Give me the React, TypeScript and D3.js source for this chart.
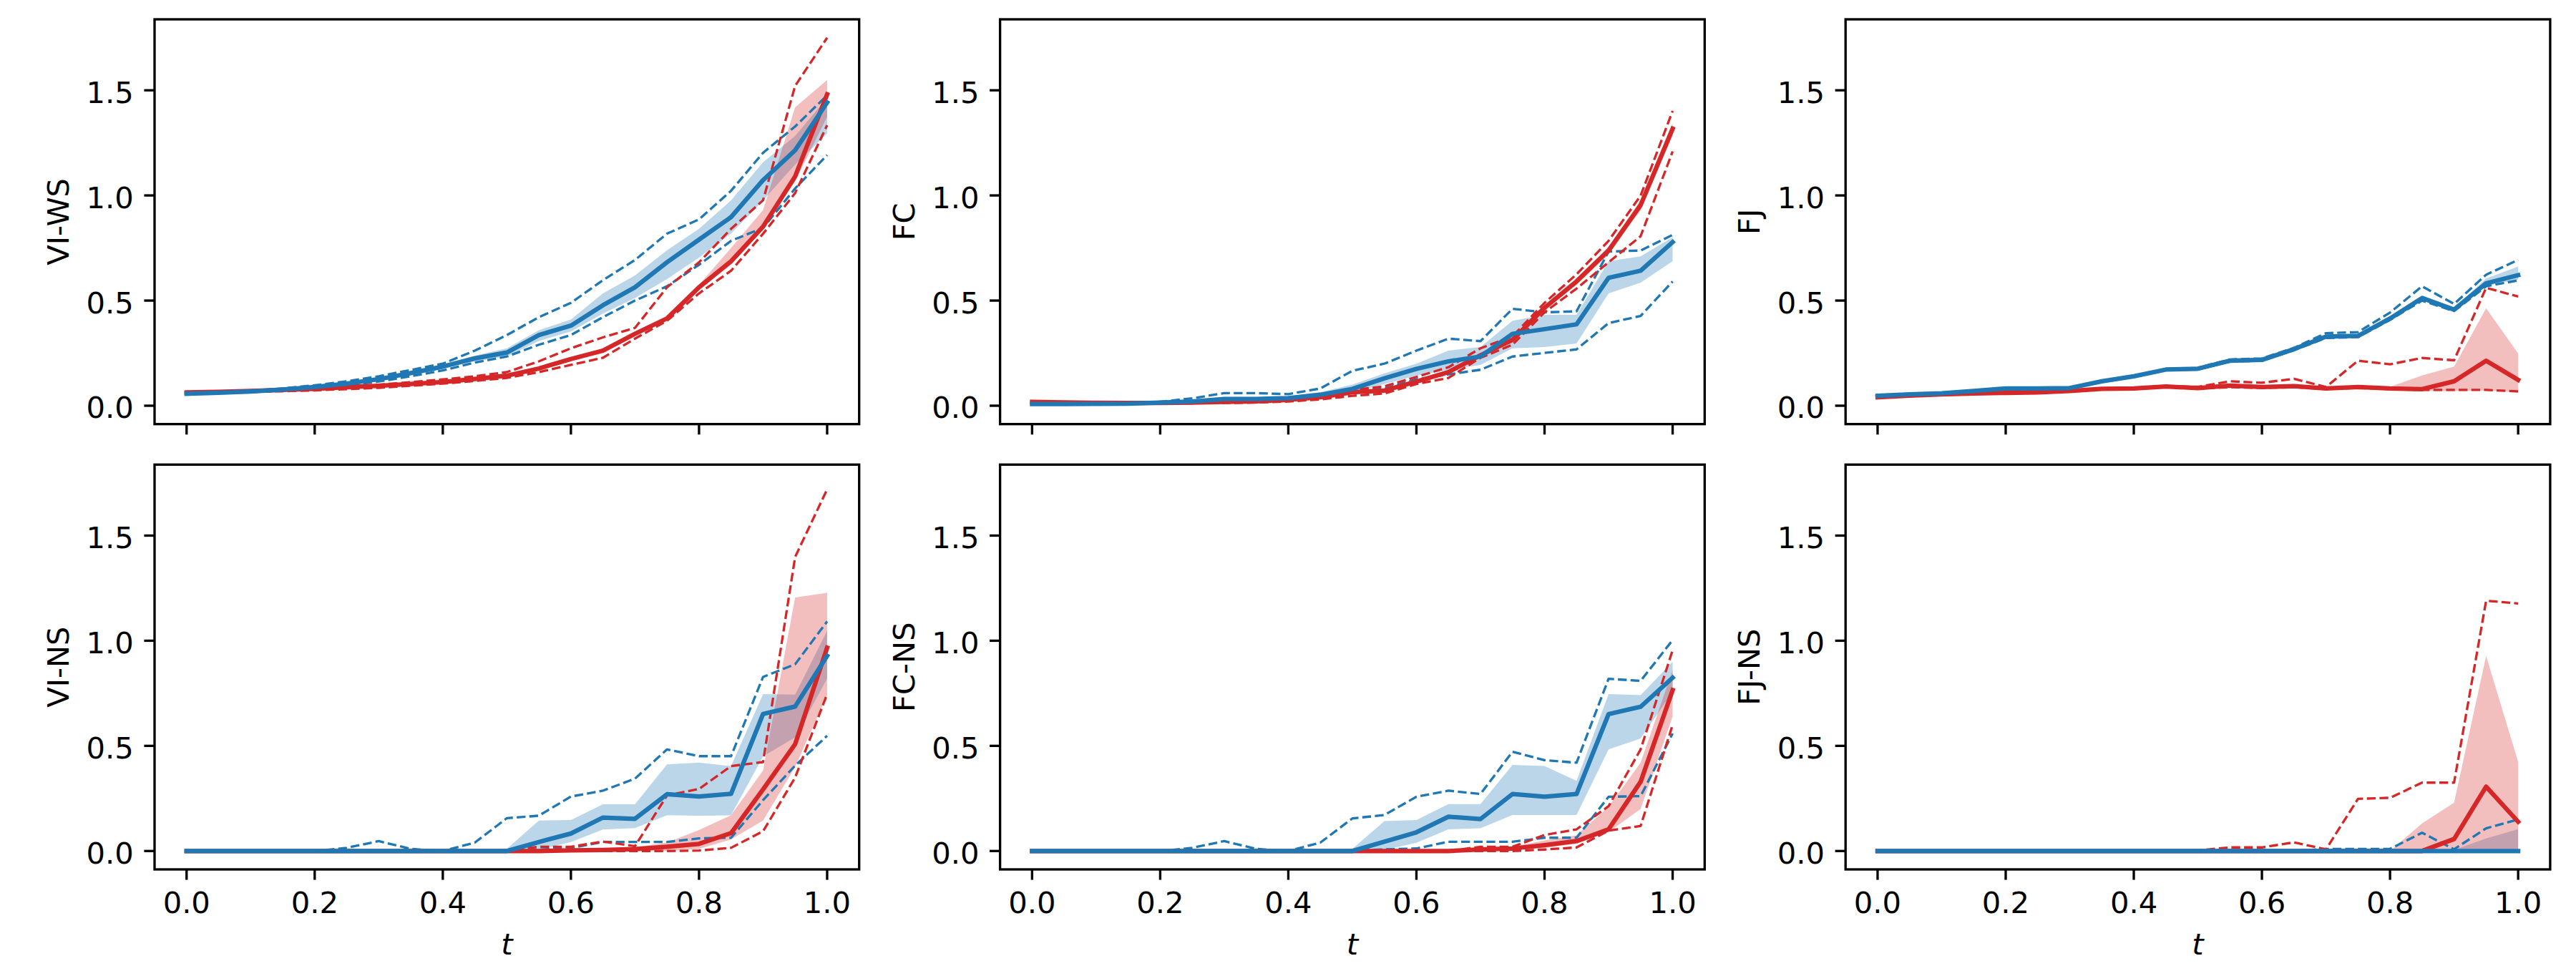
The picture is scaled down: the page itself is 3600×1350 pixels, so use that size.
import React from 'react';
import * as d3 from 'd3';

// ---------- data ----------
const T = [0, 0.05, 0.1, 0.15, 0.2, 0.25, 0.3, 0.35, 0.4, 0.45, 0.5, 0.55, 0.6, 0.65, 0.7, 0.75, 0.8, 0.85, 0.9, 0.95, 1.0];
const X_TICKS = [0, 0.2, 0.4, 0.6, 0.8, 1.0];
const X_TICK_LABELS = ['0.0', '0.2', '0.4', '0.6', '0.8', '1.0'];
const Y_TICKS = [0, 0.5, 1.0, 1.5];
const Y_TICK_LABELS = ['0.0', '0.5', '1.0', '1.5'];
const Y_LABELS = ['VI-WS', 'FC', 'FJ', 'VI-NS', 'FC-NS', 'FJ-NS'];
const X_LABEL = 't';

// VI-WS
const viwsBlueMean = [0.057, 0.062, 0.068, 0.077, 0.089, 0.105, 0.126, 0.155, 0.186, 0.225, 0.253, 0.336, 0.381, 0.478, 0.563, 0.682, 0.790, 0.897, 1.073, 1.215, 1.442];
const viwsBlueLo = [0.054, 0.059, 0.065, 0.073, 0.084, 0.099, 0.118, 0.146, 0.176, 0.212, 0.234, 0.308, 0.353, 0.438, 0.512, 0.602, 0.704, 0.818, 0.977, 1.147, 1.294];
const viwsBlueHi = [0.060, 0.065, 0.071, 0.081, 0.094, 0.111, 0.134, 0.164, 0.196, 0.238, 0.273, 0.359, 0.410, 0.534, 0.619, 0.739, 0.841, 0.977, 1.158, 1.283, 1.464];
const viwsBlueDashHi = [0.058, 0.064, 0.070, 0.082, 0.097, 0.116, 0.140, 0.170, 0.200, 0.262, 0.336, 0.421, 0.489, 0.597, 0.693, 0.818, 0.886, 1.022, 1.203, 1.328, 1.476];
const viwsBlueDashLo = [0.055, 0.060, 0.066, 0.074, 0.083, 0.097, 0.115, 0.140, 0.168, 0.205, 0.234, 0.290, 0.336, 0.421, 0.500, 0.568, 0.670, 0.784, 0.846, 1.033, 1.192];
const viwsRedMean = [0.063, 0.066, 0.070, 0.075, 0.080, 0.088, 0.095, 0.103, 0.113, 0.127, 0.143, 0.177, 0.222, 0.262, 0.342, 0.415, 0.563, 0.687, 0.852, 1.090, 1.481];
const viwsRedLo = [0.061, 0.064, 0.068, 0.073, 0.078, 0.085, 0.092, 0.099, 0.109, 0.122, 0.137, 0.170, 0.214, 0.253, 0.332, 0.405, 0.552, 0.670, 0.841, 1.067, 1.374];
const viwsRedHi = [0.065, 0.068, 0.072, 0.077, 0.082, 0.091, 0.098, 0.107, 0.117, 0.132, 0.149, 0.184, 0.230, 0.271, 0.352, 0.425, 0.575, 0.750, 0.931, 1.419, 1.549];
const viwsRedDashHi = [0.064, 0.068, 0.072, 0.078, 0.085, 0.092, 0.100, 0.112, 0.125, 0.140, 0.160, 0.211, 0.273, 0.325, 0.370, 0.563, 0.682, 0.841, 0.977, 1.521, 1.750];
const viwsRedDashLo = [0.060, 0.063, 0.066, 0.069, 0.073, 0.079, 0.085, 0.095, 0.105, 0.118, 0.132, 0.160, 0.194, 0.228, 0.319, 0.404, 0.534, 0.642, 0.818, 1.011, 1.334];

// FC
const fcBlueMean = [0.008, 0.008, 0.009, 0.010, 0.015, 0.020, 0.032, 0.032, 0.036, 0.052, 0.080, 0.130, 0.175, 0.211, 0.234, 0.342, 0.364, 0.387, 0.608, 0.642, 0.778];
const fcBlueLo = [0.005, 0.005, 0.006, 0.007, 0.011, 0.015, 0.025, 0.025, 0.029, 0.042, 0.064, 0.103, 0.143, 0.171, 0.194, 0.273, 0.279, 0.296, 0.534, 0.585, 0.687];
const fcBlueHi = [0.011, 0.011, 0.012, 0.013, 0.019, 0.026, 0.040, 0.040, 0.044, 0.065, 0.100, 0.154, 0.200, 0.262, 0.279, 0.404, 0.432, 0.432, 0.687, 0.710, 0.801];
const fcBlueDashHi = [0.010, 0.010, 0.011, 0.013, 0.019, 0.035, 0.060, 0.060, 0.055, 0.082, 0.166, 0.200, 0.262, 0.319, 0.307, 0.461, 0.444, 0.449, 0.733, 0.738, 0.812];
const fcBlueDashLo = [0.006, 0.006, 0.007, 0.008, 0.012, 0.016, 0.025, 0.025, 0.028, 0.040, 0.069, 0.081, 0.126, 0.149, 0.171, 0.234, 0.251, 0.268, 0.393, 0.427, 0.591];
const fcRedMean = [0.018, 0.016, 0.014, 0.013, 0.013, 0.015, 0.018, 0.021, 0.028, 0.040, 0.064, 0.072, 0.115, 0.160, 0.240, 0.313, 0.466, 0.591, 0.738, 0.954, 1.317];
const fcRedLo = [0.015, 0.013, 0.011, 0.010, 0.010, 0.012, 0.014, 0.017, 0.023, 0.034, 0.057, 0.064, 0.106, 0.150, 0.229, 0.300, 0.452, 0.575, 0.720, 0.930, 1.285];
const fcRedHi = [0.021, 0.019, 0.017, 0.016, 0.016, 0.018, 0.022, 0.025, 0.033, 0.046, 0.071, 0.080, 0.124, 0.170, 0.251, 0.326, 0.480, 0.607, 0.756, 0.978, 1.345];
const fcRedDashHi = [0.020, 0.018, 0.016, 0.015, 0.015, 0.018, 0.022, 0.026, 0.034, 0.048, 0.075, 0.092, 0.137, 0.183, 0.273, 0.330, 0.489, 0.625, 0.784, 0.999, 1.402];
const fcRedDashLo = [0.016, 0.014, 0.012, 0.011, 0.011, 0.012, 0.013, 0.015, 0.020, 0.030, 0.047, 0.058, 0.103, 0.132, 0.228, 0.290, 0.444, 0.557, 0.682, 0.806, 1.209];

// FJ
const fjBlueMean = [0.047, 0.054, 0.059, 0.070, 0.082, 0.082, 0.084, 0.116, 0.140, 0.172, 0.176, 0.214, 0.218, 0.269, 0.329, 0.332, 0.415, 0.512, 0.457, 0.582, 0.621];
const fjBlueLo = [0.043, 0.050, 0.055, 0.066, 0.078, 0.078, 0.080, 0.112, 0.136, 0.167, 0.171, 0.209, 0.213, 0.263, 0.322, 0.326, 0.408, 0.502, 0.450, 0.570, 0.600];
const fjBlueHi = [0.051, 0.058, 0.063, 0.074, 0.086, 0.086, 0.088, 0.120, 0.144, 0.177, 0.181, 0.219, 0.223, 0.275, 0.336, 0.339, 0.424, 0.525, 0.466, 0.605, 0.662];
const fjBlueDashHi = [0.048, 0.055, 0.060, 0.071, 0.083, 0.083, 0.085, 0.118, 0.142, 0.175, 0.180, 0.220, 0.225, 0.275, 0.345, 0.350, 0.443, 0.568, 0.484, 0.623, 0.693];
const fjBlueDashLo = [0.046, 0.053, 0.058, 0.069, 0.081, 0.081, 0.083, 0.114, 0.138, 0.169, 0.173, 0.210, 0.214, 0.264, 0.322, 0.326, 0.408, 0.500, 0.450, 0.568, 0.596];
const fjRedMean = [0.040, 0.048, 0.054, 0.058, 0.061, 0.063, 0.070, 0.080, 0.082, 0.091, 0.084, 0.096, 0.089, 0.093, 0.082, 0.089, 0.082, 0.079, 0.116, 0.214, 0.123];
const fjRedLo = [0.036, 0.044, 0.050, 0.054, 0.057, 0.059, 0.066, 0.076, 0.078, 0.087, 0.080, 0.092, 0.085, 0.089, 0.078, 0.085, 0.076, 0.070, 0.070, 0.072, 0.065];
const fjRedHi = [0.044, 0.052, 0.058, 0.062, 0.065, 0.067, 0.074, 0.084, 0.086, 0.095, 0.088, 0.100, 0.093, 0.097, 0.086, 0.093, 0.090, 0.144, 0.186, 0.464, 0.248];
const fjRedDashHi = [0.042, 0.050, 0.056, 0.060, 0.063, 0.065, 0.072, 0.082, 0.084, 0.093, 0.090, 0.116, 0.109, 0.128, 0.089, 0.214, 0.197, 0.227, 0.216, 0.561, 0.519];
const fjRedDashLo = [0.038, 0.046, 0.052, 0.056, 0.059, 0.061, 0.068, 0.078, 0.080, 0.089, 0.082, 0.088, 0.085, 0.088, 0.080, 0.084, 0.080, 0.075, 0.075, 0.075, 0.068];

// VI-NS
const vinsBlueMean = [0, 0, 0, 0, 0, 0, 0, 0, 0, 0, 0, 0.043, 0.083, 0.159, 0.153, 0.270, 0.259, 0.272, 0.652, 0.687, 0.928];
const vinsBlueLo = [0, 0, 0, 0, 0, 0, 0, 0, 0, 0, 0, 0.005, 0.043, 0.102, 0.109, 0.170, 0.168, 0.170, 0.450, 0.540, 0.820];
const vinsBlueHi = [0, 0, 0, 0, 0, 0, 0, 0, 0, 0, 0.010, 0.145, 0.147, 0.222, 0.222, 0.412, 0.420, 0.404, 0.746, 0.744, 1.047];
const vinsBlueDashHi = [0, 0, 0, 0, 0, 0.015, 0.047, 0.010, 0, 0.040, 0.156, 0.168, 0.259, 0.287, 0.344, 0.483, 0.451, 0.451, 0.828, 0.888, 1.092];
const vinsBlueDashLo = [0, 0, 0, 0, 0, 0, 0, 0, 0, 0, 0, 0.007, 0.015, 0.043, 0.043, 0.043, 0.060, 0.063, 0.242, 0.406, 0.548];
const vinsRedMean = [0, 0, 0, 0, 0, 0, 0, 0, 0, 0, 0, 0, 0.003, 0.005, 0.009, 0.020, 0.034, 0.085, 0.293, 0.508, 0.967];
const vinsRedLo = [0, 0, 0, 0, 0, 0, 0, 0, 0, 0, 0, 0, 0, 0, 0, 0, 0.010, 0.055, 0.145, 0.400, 0.741];
const vinsRedHi = [0, 0, 0, 0, 0, 0, 0, 0, 0, 0, 0.005, 0.008, 0.010, 0.012, 0.018, 0.040, 0.100, 0.170, 0.383, 1.206, 1.228];
const vinsRedDashHi = [0, 0, 0, 0, 0, 0, 0, 0, 0, 0, 0.003, 0.020, 0.020, 0.045, 0.023, 0.264, 0.295, 0.404, 0.423, 1.398, 1.720];
const vinsRedDashLo = [0, 0, 0, 0, 0, 0, 0, 0, 0, 0, 0, 0, 0, 0, 0, 0, 0.002, 0.015, 0.094, 0.349, 0.746];

// FC-NS
const fcnsBlueMean = [0, 0, 0, 0, 0, 0, 0, 0, 0, 0, 0, 0.044, 0.089, 0.163, 0.152, 0.271, 0.258, 0.271, 0.651, 0.686, 0.824];
const fcnsBlueLo = [0, 0, 0, 0, 0, 0, 0, 0, 0, 0, 0, 0.005, 0.039, 0.103, 0.108, 0.171, 0.171, 0.171, 0.483, 0.535, 0.757];
const fcnsBlueHi = [0, 0, 0, 0, 0, 0, 0, 0, 0, 0, 0.010, 0.142, 0.147, 0.223, 0.223, 0.409, 0.404, 0.334, 0.746, 0.741, 0.900];
const fcnsBlueDashHi = [0, 0, 0, 0, 0, 0.015, 0.047, 0.010, 0, 0.040, 0.155, 0.171, 0.258, 0.287, 0.271, 0.472, 0.432, 0.420, 0.819, 0.809, 1.003];
const fcnsBlueDashLo = [0, 0, 0, 0, 0, 0, 0, 0, 0, 0, 0, 0.008, 0.012, 0.044, 0.044, 0.044, 0.063, 0.063, 0.258, 0.261, 0.559];
const fcnsRedMean = [0, 0, 0, 0, 0, 0, 0, 0, 0, 0, 0, 0, 0, 0, 0.007, 0.012, 0.028, 0.047, 0.103, 0.329, 0.765];
const fcnsRedLo = [0, 0, 0, 0, 0, 0, 0, 0, 0, 0, 0, 0, 0, 0, 0, 0.005, 0.015, 0.035, 0.090, 0.200, 0.640];
const fcnsRedHi = [0, 0, 0, 0, 0, 0, 0, 0, 0, 0, 0, 0, 0, 0.005, 0.012, 0.020, 0.050, 0.075, 0.210, 0.420, 0.860];
const fcnsRedDashHi = [0, 0, 0, 0, 0, 0, 0, 0, 0, 0, 0, 0, 0, 0, 0.020, 0.020, 0.076, 0.103, 0.213, 0.483, 0.955];
const fcnsRedDashLo = [0, 0, 0, 0, 0, 0, 0, 0, 0, 0, 0, 0, 0, 0, 0, 0, 0.007, 0.017, 0.097, 0.119, 0.600];

// FJ-NS
const fjnsBlueMean = [0, 0, 0, 0, 0, 0, 0, 0, 0, 0, 0, 0, 0, 0, 0, 0, 0, 0, 0, 0, 0];
const fjnsBlueLo = [0, 0, 0, 0, 0, 0, 0, 0, 0, 0, 0, 0, 0, 0, 0, 0, 0, 0, 0, 0, 0];
const fjnsBlueHi = [0, 0, 0, 0, 0, 0, 0, 0, 0, 0, 0, 0, 0, 0, 0, 0, 0, 0, 0.005, 0.060, 0.104];
const fjnsBlueDashHi = [0, 0, 0, 0, 0, 0, 0, 0, 0, 0, 0, 0, 0, 0, 0.010, 0.010, 0.010, 0.087, 0.008, 0.108, 0.150];
const fjnsBlueDashLo = [0, 0, 0, 0, 0, 0, 0, 0, 0, 0, 0, 0, 0, 0, 0, 0, 0, 0, 0, 0, 0];
const fjnsRedMean = [0, 0, 0, 0, 0, 0, 0, 0, 0, 0, 0, 0, 0, 0, 0, 0, 0, 0, 0.057, 0.306, 0.139];
const fjnsRedLo = [0, 0, 0, 0, 0, 0, 0, 0, 0, 0, 0, 0, 0, 0, 0, 0, 0, 0, 0, 0, 0];
const fjnsRedHi = [0, 0, 0, 0, 0, 0, 0, 0, 0, 0, 0, 0, 0, 0, 0, 0, 0, 0.131, 0.230, 0.927, 0.424];
const fjnsRedDashHi = [0, 0, 0, 0, 0, 0, 0, 0, 0, 0, 0.003, 0.017, 0.017, 0.041, 0.008, 0.248, 0.253, 0.325, 0.325, 1.190, 1.177];
const fjnsRedDashLo = [0, 0, 0, 0, 0, 0, 0, 0, 0, 0, 0, 0, 0, 0, 0, 0, 0, 0, 0, 0, 0];

type Series = { mean: number[]; lo: number[]; hi: number[]; dashHi: number[]; dashLo: number[] };
type PanelData = { label: string; blue: Series; red: Series };

const PANELS: PanelData[] = [
  { label: Y_LABELS[0], blue: { mean: viwsBlueMean, lo: viwsBlueLo, hi: viwsBlueHi, dashHi: viwsBlueDashHi, dashLo: viwsBlueDashLo }, red: { mean: viwsRedMean, lo: viwsRedLo, hi: viwsRedHi, dashHi: viwsRedDashHi, dashLo: viwsRedDashLo } },
  { label: Y_LABELS[1], blue: { mean: fcBlueMean, lo: fcBlueLo, hi: fcBlueHi, dashHi: fcBlueDashHi, dashLo: fcBlueDashLo }, red: { mean: fcRedMean, lo: fcRedLo, hi: fcRedHi, dashHi: fcRedDashHi, dashLo: fcRedDashLo } },
  { label: Y_LABELS[2], blue: { mean: fjBlueMean, lo: fjBlueLo, hi: fjBlueHi, dashHi: fjBlueDashHi, dashLo: fjBlueDashLo }, red: { mean: fjRedMean, lo: fjRedLo, hi: fjRedHi, dashHi: fjRedDashHi, dashLo: fjRedDashLo } },
  { label: Y_LABELS[3], blue: { mean: vinsBlueMean, lo: vinsBlueLo, hi: vinsBlueHi, dashHi: vinsBlueDashHi, dashLo: vinsBlueDashLo }, red: { mean: vinsRedMean, lo: vinsRedLo, hi: vinsRedHi, dashHi: vinsRedDashHi, dashLo: vinsRedDashLo } },
  { label: Y_LABELS[4], blue: { mean: fcnsBlueMean, lo: fcnsBlueLo, hi: fcnsBlueHi, dashHi: fcnsBlueDashHi, dashLo: fcnsBlueDashLo }, red: { mean: fcnsRedMean, lo: fcnsRedLo, hi: fcnsRedHi, dashHi: fcnsRedDashHi, dashLo: fcnsRedDashLo } },
  { label: Y_LABELS[5], blue: { mean: fjnsBlueMean, lo: fjnsBlueLo, hi: fjnsBlueHi, dashHi: fjnsBlueDashHi, dashLo: fjnsBlueDashLo }, red: { mean: fjnsRedMean, lo: fjnsRedLo, hi: fjnsRedHi, dashHi: fjnsRedDashHi, dashLo: fjnsRedDashLo } },
];

// ---------- layout / style ----------
const FIG_W = 3600;
const FIG_H = 1350;
const LEFT = 216;
const TOP = 27;
const PW = 984.7;
const PH = 565.7;
const GAP_W = 196.9;
const GAP_H = 56.6;
const PT = 300 / 72;
const FONT = 10 * PT;
const TICK_LEN = 3.5 * PT;
const TICK_PAD = 3.5 * PT;
const SPINE_W = 0.8 * PT;
const MEAN_W = 1.5 * PT;
const DASH_W = 0.8 * PT;
const DASH = `${3.7 * 0.8 * PT} ${1.6 * 0.8 * PT}`;
const BLUE = '#1f77b4';
const RED = '#d62728';
const FONT_FAMILY = '"DejaVu Sans", sans-serif';

const xScale = d3.scaleLinear().domain([-0.05, 1.05]).range([0, PW]);
const yScale = d3.scaleLinear().domain([-0.0875, 1.8375]).range([PH, 0]);

const lineGen = d3
  .line<number>()
  .x((_, i) => xScale(T[i]))
  .y((d) => yScale(d));

const bandGen = (lo: number[], hi: number[]) =>
  d3
    .area<number>()
    .x((_, i) => xScale(T[i]))
    .y0((_, i) => yScale(lo[i]))
    .y1((_, i) => yScale(hi[i]))(T) as string;

function Panel({ data, idx }: { data: PanelData; idx: number }) {
  const col = idx % 3;
  const row = Math.floor(idx / 3);
  const tx = LEFT + col * (PW + GAP_W);
  const ty = TOP + row * (PH + GAP_H);
  const clipId = `clip-${idx}`;
  const showXLabels = row === 1;
  return (
    <g transform={`translate(${tx},${ty})`}>
      <defs>
        <clipPath id={clipId}>
          <rect x={0} y={0} width={PW} height={PH} />
        </clipPath>
      </defs>
      <g clipPath={`url(#${clipId})`}>
        <path d={bandGen(data.blue.lo, data.blue.hi)} fill={BLUE} fillOpacity={0.3} stroke="none" />
        <path d={bandGen(data.red.lo, data.red.hi)} fill={RED} fillOpacity={0.3} stroke="none" />
        {[data.blue.dashHi, data.blue.dashLo].map((s, k) => (
          <path key={`bd${k}`} d={lineGen(s) as string} fill="none" stroke={BLUE} strokeWidth={DASH_W} strokeDasharray={DASH} strokeLinejoin="round" />
        ))}
        {[data.red.dashHi, data.red.dashLo].map((s, k) => (
          <path key={`rd${k}`} d={lineGen(s) as string} fill="none" stroke={RED} strokeWidth={DASH_W} strokeDasharray={DASH} strokeLinejoin="round" />
        ))}
        <path d={lineGen(data.red.mean) as string} fill="none" stroke={RED} strokeWidth={MEAN_W} strokeLinejoin="round" strokeLinecap="square" />
        <path d={lineGen(data.blue.mean) as string} fill="none" stroke={BLUE} strokeWidth={MEAN_W} strokeLinejoin="round" strokeLinecap="square" />
      </g>
      {/* y ticks */}
      {Y_TICKS.map((v, i) => (
        <g key={`yt${i}`}>
          <line x1={-TICK_LEN} x2={0} y1={yScale(v)} y2={yScale(v)} stroke="#000" strokeWidth={SPINE_W} />
          <text x={-TICK_LEN - TICK_PAD} y={yScale(v) + 17.5} textAnchor="end" fontSize={FONT} fontFamily={FONT_FAMILY} fill="#000">
            {Y_TICK_LABELS[i]}
          </text>
        </g>
      ))}
      {/* x ticks */}
      {X_TICKS.map((v, i) => (
        <g key={`xt${i}`}>
          <line x1={xScale(v)} x2={xScale(v)} y1={PH} y2={PH + TICK_LEN} stroke="#000" strokeWidth={SPINE_W} />
          {showXLabels && (
            <text x={xScale(v)} y={PH + 61.5} textAnchor="middle" fontSize={FONT} fontFamily={FONT_FAMILY} fill="#000">
              {X_TICK_LABELS[i]}
            </text>
          )}
        </g>
      ))}
      {showXLabels && (
        <text x={PW / 2} y={PH + 119.5} textAnchor="middle" fontSize={FONT} fontFamily={FONT_FAMILY} fontStyle="italic" fill="#000">
          {X_LABEL}
        </text>
      )}
      <text
        transform={`translate(${-120},${PH / 2}) rotate(-90)`}
        textAnchor="middle"
        fontSize={FONT}
        fontFamily={FONT_FAMILY}
        fill="#000"
      >
        {data.label}
      </text>
      <rect x={0} y={0} width={PW} height={PH} fill="none" stroke="#000" strokeWidth={SPINE_W} />
    </g>
  );
}

export default function App() {
  return (
    <div style={{ position: 'absolute', left: 0, top: 0, width: FIG_W, height: FIG_H, background: '#fff' }}>
      <svg width={FIG_W} height={FIG_H} viewBox={`0 0 ${FIG_W} ${FIG_H}`} xmlns="http://www.w3.org/2000/svg">
        <rect x={0} y={0} width={FIG_W} height={FIG_H} fill="#fff" />
        {PANELS.map((p, i) => (
          <Panel key={i} data={p} idx={i} />
        ))}
      </svg>
    </div>
  );
}
